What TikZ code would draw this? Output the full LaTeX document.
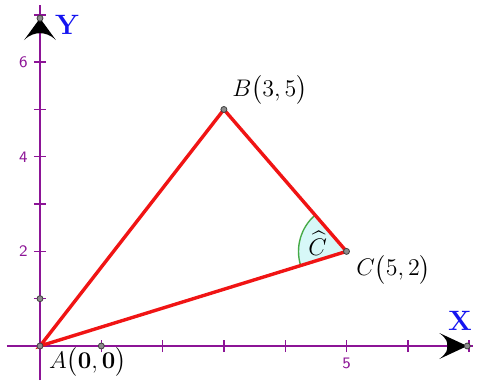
\documentclass[tikz,border=0pt]{standalone}
\usepackage{amsmath}
\definecolor{axpurple}{RGB}{140,20,150}
\definecolor{axblue}{RGB}{20,20,240}
\definecolor{arcgreen}{RGB}{70,170,70}
\definecolor{arcfill}{RGB}{215,248,248}
\definecolor{tri}{RGB}{240,20,20}
\tikzset{
  axisline/.style={draw=axpurple, line width=0.8pt},
  tickmark/.style={draw=axpurple, line width=0.7pt},
  ticklabel/.style={text=axpurple, font=\sffamily\fontsize{8}{9}\selectfont, inner sep=0pt},
  axlabel/.style={text=axblue, font=\bfseries\fontsize{14}{16}\selectfont, inner sep=0pt},
  ptdot/.style={circle, fill=black!45, draw=black!75, line width=0.4pt, inner sep=0pt, minimum size=3pt},
  side/.style={draw=tri, line width=1.7pt, line cap=round},
  ptlabel/.style={inner sep=0pt, font=\fontsize{12}{14}\selectfont},
  arrowhead/.style={fill=black}
}
\begin{document}
\begin{tikzpicture}[x=30.65pt, y=23.65pt]
\useasboundingbox (-0.6525,-0.719) rectangle (7.145,7.315);
% axes
\coordinate (xs) at (-0.54,0);
\coordinate (xe) at (7.06,0);
\coordinate (ys) at (0,-0.72);
\coordinate (ye) at (0,7.2);
\draw[axisline] (xs) -- (xe);
\draw[axisline] (ys) -- (ye);
\foreach \i in {1,...,7} {
  \draw[tickmark] (\i,0) ++(0,-3pt) -- ++(0,6pt);
  \draw[tickmark] (0,\i) ++(-3pt,0) -- ++(6pt,0);
}
\node[ticklabel] (l6) at (-0.27,6) {6};
\node[ticklabel] (l4) at (-0.27,4) {4};
\node[ticklabel] (l2) at (-0.27,2) {2};
\node[ticklabel] (l5) at (5,-0.36) {5};
% arrowheads
\coordinate (xtip) at (6.97,0);
\coordinate (ytip) at (0,6.93);
\fill[arrowhead] (xtip) -- ++(-14pt,6.5pt) .. controls ++(4pt,-3pt) and ++(0pt,2pt) .. ++(4pt,-6.5pt)
  .. controls ++(0pt,-2pt) and ++(4pt,3pt) .. ++(-4pt,-6.5pt) -- cycle;
\fill[arrowhead] (ytip) -- ++(-8pt,-11pt) .. controls ++(3pt,3pt) and ++(-2pt,0pt) .. ++(8pt,3.5pt)
  .. controls ++(2pt,0pt) and ++(-3pt,3pt) .. ++(8pt,-3.5pt) -- cycle;
\node[ptdot] (xend) at (xtip) {};
\node[ptdot] (yend) at (ytip) {};
\node[ptdot] (p10) at (1,0) {};
\node[ptdot] (p01) at (0,1) {};
\node[axlabel] (Xl) at (6.85,0.53) {X};
\node[axlabel] (Yl) at (0.44,6.79) {Y};
% triangle
\coordinate (A) at (0,0);
\coordinate (B) at (3,5);
\coordinate (C) at (5,2);
\fill[arcfill] (C) -- ++(130.8:24pt) arc[start angle=130.8, end angle=197.15, radius=24pt] -- cycle;
\draw[arcgreen, line width=0.7pt] (C) ++(130.8:24pt) arc[start angle=130.8, end angle=197.15, radius=24pt];
\node[inner sep=0pt, font=\fontsize{12}{14}\selectfont] (cang) at (4.53,2.17) {$\widehat{C}$};
\draw[side] (A) -- (B) -- (C) -- cycle;
\node[ptdot] (Ad) at (A) {};
\node[ptdot] (Bd) at (B) {};
\node[ptdot] (Cd) at (C) {};
\node[ptlabel] (Al) at (0.78,-0.34) {$A\bigl(\mathbf{0},\mathbf{0}\bigr)$};
\node[ptlabel] (Bl) at (3.75,5.41) {$B\bigl(3,5\bigr)$};
\node[ptlabel] (Cl) at (5.77,1.61) {$C\bigl(5,2\bigr)$};
\end{tikzpicture}
\end{document}
